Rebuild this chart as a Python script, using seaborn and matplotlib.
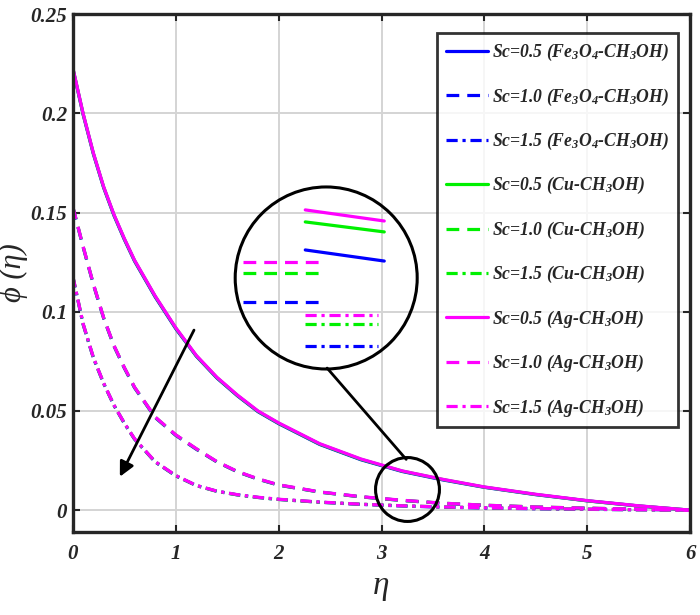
import numpy as np
import pandas as pd
import matplotlib
matplotlib.use("Agg")
import matplotlib.pyplot as plt
import seaborn as sns
from matplotlib.patches import Circle, ConnectionPatch

# similarity variable
eta = [0, 0.1, 0.2, 0.3, 0.4, 0.5, 0.6, 0.8, 1.0, 1.2, 1.4, 1.6, 1.8, 2.0,
       2.4, 2.8, 3.2, 3.6, 4.0, 4.5, 5.0, 5.5, 6.0]

# concentration profiles phi(eta)
sc05_fe = [0.2226, 0.1995, 0.1795, 0.1625, 0.1485, 0.1365, 0.1255, 0.1075, 0.0915, 0.0776, 0.0666, 0.0576,
           0.0496, 0.0436, 0.0331, 0.0254, 0.0195, 0.0152, 0.0115, 0.0078, 0.0047, 0.0021, 0.0]
sc10_fe = [0.1527, 0.1327, 0.1137, 0.0967, 0.0827, 0.0717, 0.0617, 0.0467, 0.0377, 0.0307, 0.0243, 0.0193,
           0.0156, 0.0126, 0.0091, 0.0067, 0.0049, 0.0034, 0.0024, 0.0015, 0.0009, 0.0004, 0.0]
sc15_fe = [0.1177, 0.0937, 0.0767, 0.0638, 0.0528, 0.0438, 0.0358, 0.0243, 0.0173, 0.0124, 0.0095, 0.0077,
           0.0064, 0.0054, 0.0040, 0.0029, 0.0021, 0.0015, 0.0011, 0.0007, 0.0004, 0.0002, 0.0]

sc05_cu = [0.2228, 0.1998, 0.1798, 0.1628, 0.1488, 0.1368, 0.1258, 0.1078, 0.0918, 0.0778, 0.0668, 0.0578,
           0.0498, 0.0438, 0.0333, 0.0256, 0.0197, 0.0154, 0.0116, 0.0079, 0.0047, 0.0021, 0.0]
sc10_cu = [0.1529, 0.1329, 0.1139, 0.0969, 0.0829, 0.0719, 0.0619, 0.0469, 0.0379, 0.0309, 0.0244, 0.0194,
           0.0157, 0.0127, 0.0091, 0.0067, 0.0049, 0.0035, 0.0025, 0.0016, 0.0010, 0.0005, 0.0]
sc15_cu = [0.1179, 0.0939, 0.0769, 0.0639, 0.0529, 0.0439, 0.0359, 0.0244, 0.0174, 0.0124, 0.0095, 0.0077,
           0.0064, 0.0054, 0.0040, 0.0030, 0.0022, 0.0016, 0.0012, 0.0008, 0.0005, 0.0002, 0.0]

sc05_ag = [0.223, 0.200, 0.180, 0.163, 0.149, 0.137, 0.126, 0.108, 0.092, 0.078, 0.067, 0.058,
           0.050, 0.044, 0.0335, 0.0258, 0.0198, 0.0155, 0.0117, 0.0080, 0.0048, 0.0022, 0.0]
sc10_ag = [0.153, 0.133, 0.114, 0.097, 0.083, 0.072, 0.062, 0.047, 0.038, 0.031, 0.0245, 0.0195,
           0.0158, 0.0128, 0.0092, 0.0068, 0.0050, 0.0035, 0.0025, 0.0016, 0.0010, 0.0005, 0.0]
sc15_ag = [0.118, 0.094, 0.077, 0.064, 0.053, 0.044, 0.036, 0.0245, 0.0175, 0.0125, 0.0096, 0.0078,
           0.0065, 0.0055, 0.0041, 0.0030, 0.0022, 0.0016, 0.0012, 0.0008, 0.0005, 0.0002, 0.0]

fluids = ["Fe$_3$O$_4$-CH$_3$OH", "Cu-CH$_3$OH", "Ag-CH$_3$OH"]
sc_values = ["0.5", "1.0", "1.5"]
colors = ["#0000ff", "#00f000", "#ff00ff"]
styles = ["-", (0, (4, 2.5)), (0, (3.5, 1.5, 1, 1.5))]
profiles = [[sc05_fe, sc10_fe, sc15_fe],
            [sc05_cu, sc10_cu, sc15_cu],
            [sc05_ag, sc10_ag, sc15_ag]]

# magnified view (schematic, in inset units)
zoom_x = [[0.385, 0.819], [0.044, 0.478], [0.385, 0.786]]
zoom_y = {
    "#0000ff": [[0.654, 0.593], [0.368, 0.368], [0.126, 0.126]],
    "#00f000": [[0.808, 0.753], [0.527, 0.527], [0.247, 0.247]],
    "#ff00ff": [[0.874, 0.813], [0.588, 0.588], [0.297, 0.297]],
}

sns.set_style("ticks")
plt.rcParams["font.family"] = ["Liberation Serif", "DejaVu Serif"]
plt.rcParams["font.style"] = "italic"
plt.rcParams["font.weight"] = "bold"
plt.rcParams["mathtext.fontset"] = "custom"
plt.rcParams["mathtext.rm"] = "Liberation Serif:italic:bold"
plt.rcParams["mathtext.it"] = "Liberation Serif:italic:bold"
plt.rcParams["mathtext.default"] = "rm"

fig = plt.figure(figsize=(7, 6.15), dpi=100)
ax = fig.add_axes([0.104, 0.135, 0.882, 0.842])

handles = []
labels = []
for fi, fluid in enumerate(fluids):
    for si, sc in enumerate(sc_values):
        df = pd.DataFrame({"eta": eta, "phi": profiles[fi][si]})
        sns.lineplot(data=df, x="eta", y="phi", ax=ax, color=colors[fi],
                     linestyle=styles[si], lw=2.3)
        handles.append(ax.get_lines()[-1])
        labels.append(f"Sc={sc} ({fluid})")

ax.set_xlim(0, 6)
ax.set_ylim(-0.011, 0.25)
ax.set_xticks(range(7))
ax.set_yticks([0, 0.05, 0.1, 0.15, 0.2, 0.25])
ax.set_yticklabels(["0", "0.05", "0.1", "0.15", "0.2", "0.25"])
ax.grid(True, color="#d4d4d4", lw=1.4)
ax.tick_params(direction="in", top=True, right=True, length=5, width=1.5,
               labelsize=15)
ax.tick_params(axis="x", pad=9)
ax.tick_params(axis="y", pad=4)
for sp in ax.spines.values():
    sp.set_linewidth(2.4)
ax.set_xlabel("η", fontsize=24, labelpad=4)
ax.set_ylabel("ϕ (η)", fontsize=22, labelpad=2)

leg = ax.legend(handles, labels, loc="upper right", bbox_to_anchor=(0.98, 0.963),
                borderaxespad=0, fontsize=12.7, handlelength=2.4, handletextpad=0.2,
                labelspacing=1.32, frameon=True, fancybox=False, borderpad=0.5)
leg.get_frame().set_edgecolor("black")
leg.get_frame().set_linewidth(2)

ax.annotate("", xy=(0.445, 0.0156), xytext=(1.19, 0.092),
            arrowprops=dict(arrowstyle="-|>", color="black", lw=2, mutation_scale=22))

# small circle marking the zoomed region
ax.plot([3.25], [0.0106], "o", ms=46, mfc="none", mec="black", mew=2.2)

# magnifier inset
ax_in = fig.add_axes([0.336, 0.4, 0.26, 0.296])
ax_in.set_xlim(0, 1)
ax_in.set_ylim(0, 1)
ax_in.axis("off")
ax_in.add_patch(Circle((0.5, 0.5), 0.5, transform=ax_in.transAxes, fill=False,
                       lw=2.2, color="black", clip_on=False))
for c in colors:
    for si in range(3):
        ax_in.plot(zoom_x[si], zoom_y[c][si], color=c, linestyle=styles[si], lw=2.3)

con = ConnectionPatch(xyA=(0.505, 0.005), coordsA=ax_in.transAxes,
                      xyB=(3.24, 0.0256), coordsB=ax.transData, color="black", lw=2)
fig.add_artist(con)

fig.savefig("out.png", dpi=100)
